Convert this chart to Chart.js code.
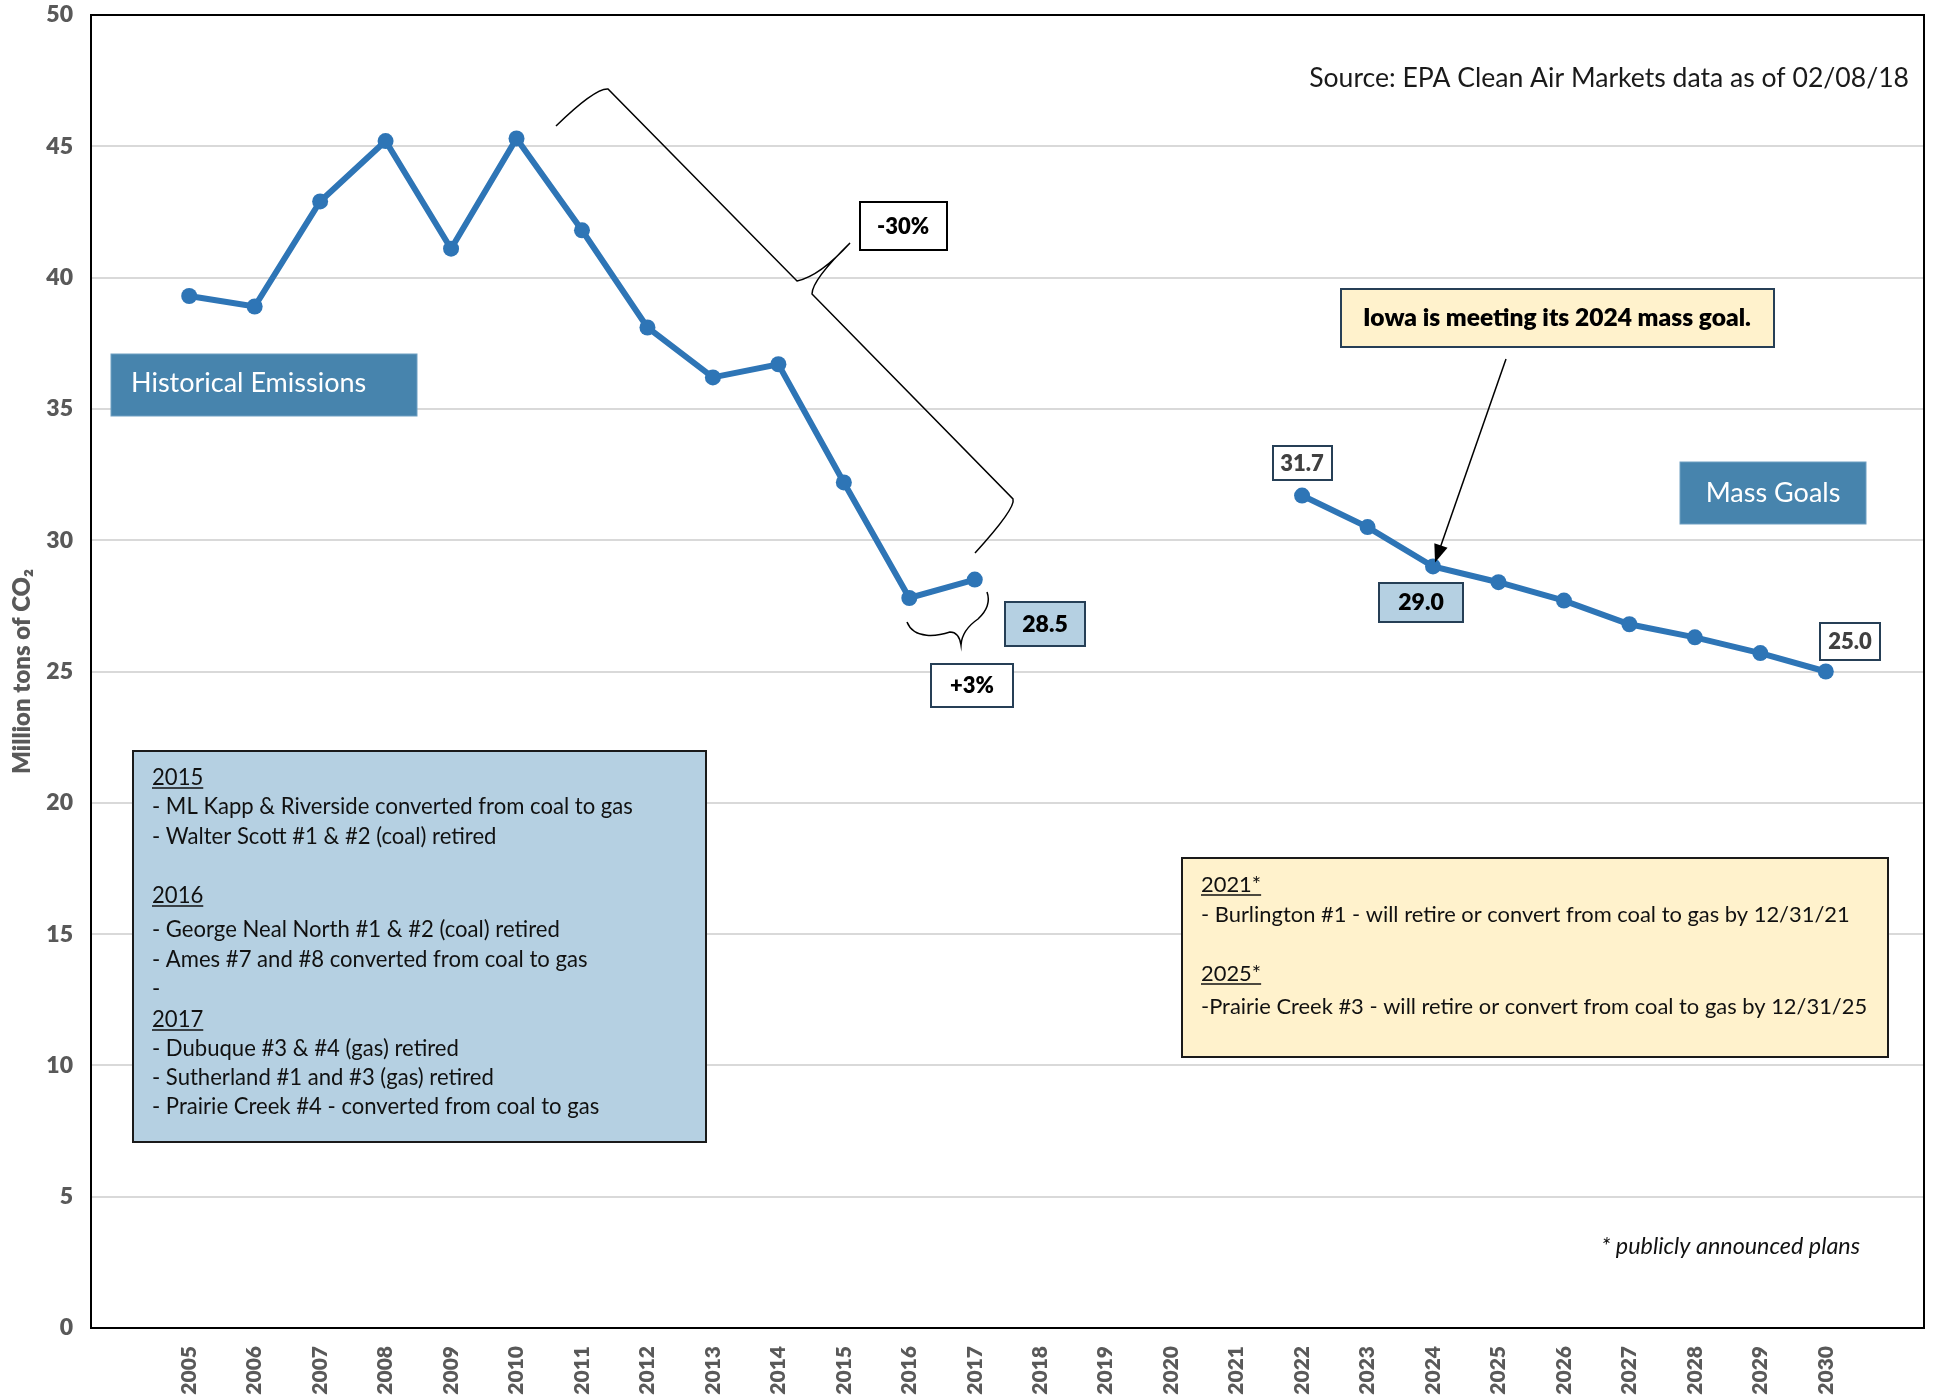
<!DOCTYPE html>
<html>
<head>
<meta charset="utf-8">
<script src="https://cdn.jsdelivr.net/npm/chart.js@4.4.0/dist/chart.umd.min.js"></script>
<style>
  html, body { margin: 0; padding: 0; background: #fff; }
  #wrap { width: 1934px; height: 1395px; position: relative; }
</style>
</head>
<body>
<div id="wrap"><canvas id="co2Chart"></canvas></div>
<script>
// ==========================================
// DATA
// ==========================================

const years = [2005, 2006, 2007, 2008, 2009, 2010, 2011, 2012, 2013, 2014, 2015, 2016, 2017,
  2018, 2019, 2020, 2021, 2022, 2023, 2024, 2025, 2026, 2027, 2028, 2029, 2030];

const historicalYears = [2005, 2006, 2007, 2008, 2009, 2010, 2011, 2012, 2013, 2014, 2015, 2016, 2017];
const historicalValues = [39.3, 38.9, 42.9, 45.2, 41.1, 45.3, 41.8, 38.1, 36.2, 36.7, 32.2, 27.8, 28.5];

const goalYears = [2022, 2023, 2024, 2025, 2026, 2027, 2028, 2029, 2030];
const goalValues = [31.7, 30.5, 29.0, 28.4, 27.7, 26.8, 26.3, 25.7, 25.0];

const yTicks = [0, 5, 10, 15, 20, 25, 30, 35, 40, 45, 50];

const retiredNotes = [
  { head: "2015" },
  { text: "- ML Kapp & Riverside converted from coal to gas" },
  { text: "- Walter Scott #1 & #2 (coal) retired" },
  { head: "2016" },
  { text: "- George Neal North #1 & #2 (coal) retired" },
  { text: "- Ames #7 and #8 converted from coal to gas" },
  { text: "-" },
  { head: "2017" },
  { text: "- Dubuque #3 & #4 (gas) retired" },
  { text: "- Sutherland #1 and #3 (gas) retired" },
  { text: "- Prairie Creek #4 - converted from coal to gas" },
];

const plannedNotes = [
  { head: "2021*" },
  { text: "- Burlington #1 - will retire or convert from coal to gas by 12/31/21" },
  { head: "2025*" },
  { text: "-Prairie Creek #3 - will retire or convert from coal to gas by 12/31/25" },
];

// ==========================================
// STYLE
// ==========================================

const FONT = "Lato, 'Open Sans', sans-serif";
const LINE_BLUE = "#2e75b6";
const TAG_BLUE = "#4784ad";
const LIGHT_BLUE = "#b5d0e2";
const LIGHT_YELLOW = "#fff2cc";
const BOX_EDGE = "#263f56";
const AXIS_GREY = "#595959";

function toPoints(xs, ys) {
  return xs.map((x, i) => ({ x: x, y: ys[i] }));
}

function valueAt(xs, ys, year) {
  return ys[xs.indexOf(year)].toFixed(1);
}

// font size so that text fills the target width
function fitSize(ctx, text, style, targetW) {
  ctx.font = `${style} 100px ${FONT}`;
  return (100 * targetW) / ctx.measureText(text).width;
}

function drawBox(ctx, x, y, w, h, fill, stroke, lw) {
  ctx.save();
  ctx.fillStyle = fill;
  ctx.fillRect(x, y, w, h);
  if (stroke) {
    ctx.strokeStyle = stroke;
    ctx.lineWidth = lw || 2;
    ctx.strokeRect(x, y, w, h);
  }
  ctx.restore();
}

function centerText(ctx, text, cx, cy, font, color) {
  ctx.save();
  ctx.font = font;
  ctx.fillStyle = color;
  ctx.textAlign = "center";
  ctx.textBaseline = "middle";
  ctx.fillText(text, cx, cy);
  ctx.restore();
}

function drawNotes(ctx, notes, x, firstY, gaps, size, color) {
  ctx.save();
  ctx.fillStyle = color;
  ctx.strokeStyle = color;
  ctx.textBaseline = "alphabetic";
  ctx.textAlign = "left";
  ctx.font = `400 ${size}px ${FONT}`;
  let y = firstY;
  notes.forEach((n, i) => {
    const t = n.head || n.text;
    ctx.fillText(t, x, y);
    if (n.head) {
      const w = ctx.measureText(t).width;
      ctx.lineWidth = 1.5;
      ctx.beginPath();
      ctx.moveTo(x, y + 3);
      ctx.lineTo(x + w, y + 3);
      ctx.stroke();
    }
    y += gaps[i] || 0;
  });
  ctx.restore();
}

// ==========================================
// PLUGINS
// ==========================================

const framePlugin = {
  id: "frame",
  beforeDatasetsDraw(chart) {
    const { ctx, chartArea: a } = chart;
    ctx.save();
    ctx.strokeStyle = "#000";
    ctx.lineWidth = 2;
    ctx.strokeRect(a.left, a.top, a.right - a.left, a.bottom - a.top);
    ctx.restore();
  },
};

const notesPlugin = {
  id: "notes",
  afterDatasetsDraw(chart) {
    const ctx = chart.ctx;

    // source line
    ctx.save();
    const srcText = "Source: EPA Clean Air Markets data as of 02/08/18";
    ctx.font = `400 ${fitSize(ctx, srcText, 400, 600)}px ${FONT}`;
    ctx.fillStyle = "#1a1a1a";
    ctx.textAlign = "right";
    ctx.textBaseline = "middle";
    ctx.fillText(srcText, 1909, 78);
    ctx.restore();

    // series tags
    drawBox(ctx, 111, 354, 306, 62, TAG_BLUE, "#6f9fc2", 1);
    ctx.save();
    ctx.font = `400 27px ${FONT}`;
    ctx.fillStyle = "#fff";
    ctx.textBaseline = "middle";
    ctx.fillText("Historical Emissions", 131, 383);
    ctx.restore();

    drawBox(ctx, 1680, 462, 186, 62, TAG_BLUE, "#6f9fc2", 1);
    centerText(ctx, "Mass Goals", 1773, 493, `400 27px ${FONT}`, "#fff");

    // -30% brace
    ctx.save();
    ctx.strokeStyle = "#000";
    ctx.lineWidth = 1.5;
    ctx.beginPath();
    ctx.moveTo(556, 126);
    ctx.quadraticCurveTo(595, 88, 608, 89);
    ctx.lineTo(797, 281);
    ctx.quadraticCurveTo(820, 276, 850, 243);
    ctx.quadraticCurveTo(812, 280, 812, 294);
    ctx.lineTo(1013, 499);
    ctx.quadraticCurveTo(1016, 508, 975, 553);
    ctx.stroke();

    // +3% brace
    ctx.beginPath();
    ctx.moveTo(907, 622);
    ctx.bezierCurveTo(914, 640, 938, 636, 950, 632);
    ctx.quadraticCurveTo(959, 632, 961, 645);
    ctx.quadraticCurveTo(962, 630, 978, 619);
    ctx.quadraticCurveTo(992, 606, 987, 592);
    ctx.stroke();
    ctx.restore();

    drawBox(ctx, 860, 202, 87, 48, "#fff", "#000", 2);
    centerText(ctx, "-30%", 903, 227, `800 22px ${FONT}`, "#000");

    drawBox(ctx, 931, 664, 82, 43, "#fff", BOX_EDGE, 2);
    centerText(ctx, "+3%", 972, 686, `800 22px ${FONT}`, "#000");

    // value labels from the data
    drawBox(ctx, 1005, 602, 80, 44, LIGHT_BLUE, BOX_EDGE, 2);
    centerText(ctx, valueAt(historicalYears, historicalValues, 2017), 1045, 625, `800 23px ${FONT}`, "#000");

    drawBox(ctx, 1273, 446, 59, 34, "#fff", BOX_EDGE, 2);
    centerText(ctx, valueAt(goalYears, goalValues, 2022), 1302, 464, `800 22px ${FONT}`, "#404040");

    drawBox(ctx, 1379, 583, 84, 39, LIGHT_BLUE, BOX_EDGE, 2);
    centerText(ctx, valueAt(goalYears, goalValues, 2024), 1421, 603, `800 23px ${FONT}`, "#000");

    drawBox(ctx, 1820, 623, 60, 37, "#fff", BOX_EDGE, 2);
    centerText(ctx, valueAt(goalYears, goalValues, 2030), 1850, 642, `800 22px ${FONT}`, "#404040");

    // callout + arrow
    drawBox(ctx, 1341, 289, 433, 58, LIGHT_YELLOW, BOX_EDGE, 2);
    const iowa = "Iowa is meeting its 2024 mass goal.";
    centerText(ctx, iowa, 1557, 318, `800 ${fitSize(ctx, iowa, 800, 388)}px ${FONT}`, "#000");

    const xs = chart.scales.x, ys = chart.scales.y;
    const tipX = xs.getPixelForValue(2024) + 2;
    const tipY = ys.getPixelForValue(goalValues[goalYears.indexOf(2024)]) - 4;
    const fromX = 1506, fromY = 359;
    const ang = Math.atan2(tipY - fromY, tipX - fromX);
    ctx.save();
    ctx.strokeStyle = "#000";
    ctx.fillStyle = "#000";
    ctx.lineWidth = 1.5;
    ctx.beginPath();
    ctx.moveTo(fromX, fromY);
    ctx.lineTo(tipX - 14 * Math.cos(ang), tipY - 14 * Math.sin(ang));
    ctx.stroke();
    ctx.beginPath();
    ctx.moveTo(tipX, tipY);
    ctx.lineTo(tipX - 18 * Math.cos(ang) + 7 * Math.sin(ang), tipY - 18 * Math.sin(ang) - 7 * Math.cos(ang));
    ctx.lineTo(tipX - 18 * Math.cos(ang) - 7 * Math.sin(ang), tipY - 18 * Math.sin(ang) + 7 * Math.cos(ang));
    ctx.closePath();
    ctx.fill();
    ctx.restore();

    // retired units box
    drawBox(ctx, 133, 751, 573, 391, LIGHT_BLUE, "#1a1a1a", 2);
    const leftSize = fitSize(ctx, retiredNotes[1].text, 400, 481);
    drawNotes(ctx, retiredNotes, 152, 785, [29, 30, 59, 34, 30, 29, 31, 29, 29, 29], leftSize, "#111");

    // planned box
    drawBox(ctx, 1182, 858, 706, 199, LIGHT_YELLOW, "#1a1a1a", 2);
    const rightSize = fitSize(ctx, plannedNotes[1].text, 400, 649);
    drawNotes(ctx, plannedNotes, 1201, 892, [30, 59, 33], rightSize, "#111");

    // footnote
    ctx.save();
    const foot = "* publicly announced plans";
    ctx.font = `italic 400 ${fitSize(ctx, foot, "italic 400", 259)}px ${FONT}`;
    ctx.fillStyle = "#111";
    ctx.textAlign = "right";
    ctx.textBaseline = "middle";
    ctx.fillText(foot, 1860, 1246);
    ctx.restore();
  },
};

// ==========================================
// CHART
// ==========================================

function initChart() {
  const ctx = document.getElementById("co2Chart");

  const lineStyle = {
    borderColor: LINE_BLUE,
    backgroundColor: LINE_BLUE,
    borderWidth: 6,
    pointRadius: 8,
    pointHoverRadius: 8,
    pointBackgroundColor: LINE_BLUE,
    pointBorderWidth: 0,
    tension: 0,
    fill: false,
  };

  new Chart(ctx.getContext("2d"), {
    type: "line",
    data: {
      datasets: [
        Object.assign({ label: "Historical Emissions", data: toPoints(historicalYears, historicalValues) }, lineStyle),
        Object.assign({ label: "Mass Goals", data: toPoints(goalYears, goalValues) }, lineStyle),
      ],
    },
    options: {
      responsive: true,
      maintainAspectRatio: false,
      animation: false,
      layout: { padding: { top: 15, right: 10, left: 0, bottom: 0 } },
      plugins: {
        legend: { display: false },
        tooltip: { enabled: false },
      },
      scales: {
        x: {
          type: "linear",
          min: 2003.5,
          max: 2031.5,
          afterBuildTicks: (scale) => {
            scale.ticks = years.map((v) => ({ value: v }));
          },
          afterFit: (scale) => {
            scale.height = 67;
          },
          grid: { display: false },
          border: { display: true, color: "#000", width: 2 },
          ticks: {
            minRotation: 90,
            maxRotation: 90,
            autoSkip: false,
            padding: 10,
            color: AXIS_GREY,
            font: { family: FONT, size: 21, weight: "800" },
            callback: (value) => String(value),
          },
        },
        y: {
          min: 0,
          max: 50,
          afterBuildTicks: (scale) => {
            scale.ticks = yTicks.map((v) => ({ value: v }));
          },
          afterFit: (scale) => {
            scale.width = 91;
            // keep the plot top where the frame starts
            scale.paddingTop = 0;
            scale.paddingBottom = 0;
          },
          grid: { color: "#d9d9d9", lineWidth: 2, drawTicks: false },
          border: { display: true, color: "#000", width: 2 },
          ticks: {
            padding: 18,
            color: AXIS_GREY,
            font: { family: FONT, size: 23, weight: "800", lineHeight: 1.2 },
          },
          title: {
            display: true,
            text: "Million tons of CO\u2082",
            color: AXIS_GREY,
            padding: { top: 8, bottom: 0 },
            font: { family: FONT, size: 24, weight: "800" },
          },
        },
      },
    },
    plugins: [framePlugin, notesPlugin],
  });
}

document.addEventListener("DOMContentLoaded", function () {
  initChart();
});
</script>
</body>
</html>
